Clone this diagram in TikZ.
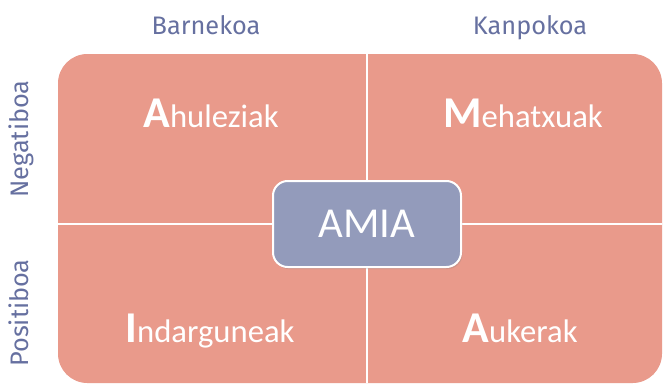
\documentclass[tikz,border=0pt]{standalone}
\usepackage{fontspec}
\setmainfont{Carlito}
\newfontfamily\axisfont{Fira Sans}
\usetikzlibrary{shadows}
\definecolor{salmon}{HTML}{E99A8B}
\definecolor{slate}{HTML}{939BBB}
\definecolor{axistext}{HTML}{6670A0}
\def\swot#1#2{{\fontsize{33}{35}\selectfont\bfseries #1}#2}

\begin{document}
\begin{tikzpicture}[x=0.75pt, y=-0.75pt,
  axis/.style={text=axistext, font=\axisfont\fontsize{19}{22}\selectfont, inner sep=0pt, anchor=base},
  quad/.style={text=white, font=\fontsize{24.5}{26}\selectfont, anchor=base, inner sep=0pt}]
\useasboundingbox (0,0) rectangle (664,383);

% background square and dividers
\fill[salmon, rounded corners=22] (58,54) rectangle (662,383);
\draw[white, line width=1.5] (367,54) -- (367,383);
\draw[white, line width=1.5] (58,224) -- (662,224);

% axis labels
\node[axis] (barne) at (206,34) {Barnekoa};
\node[axis] (kanpo) at (530,34) {Kanpokoa};
\node[axis, rotate=90] (neg) at (28,139) {Negatiboa};
\node[axis, rotate=90] (pos) at (28,313) {Positiboa};

% quadrants
\node[quad] (ahul) at (211,127) {\swot{A}{huleziak}};
\node[quad] (meha) at (523,127) {\swot{M}{ehatxuak}};
\node[quad] (indar) at (210,342) {\swot{I}{ndarguneak}};
\node[quad] (auke) at (520,342) {\swot{A}{ukerak}};

% center box
\node[draw=white, line width=1.5, fill=slate, rounded corners=11,
  minimum width=188*0.75pt, minimum height=86*0.75pt,
  drop shadow={opacity=0.25, shadow xshift=1pt, shadow yshift=-1.5pt},
  text=white, font=\fontsize{32}{34}\selectfont] (amia) at (367,224) {AMIA};
\end{tikzpicture}
\end{document}
